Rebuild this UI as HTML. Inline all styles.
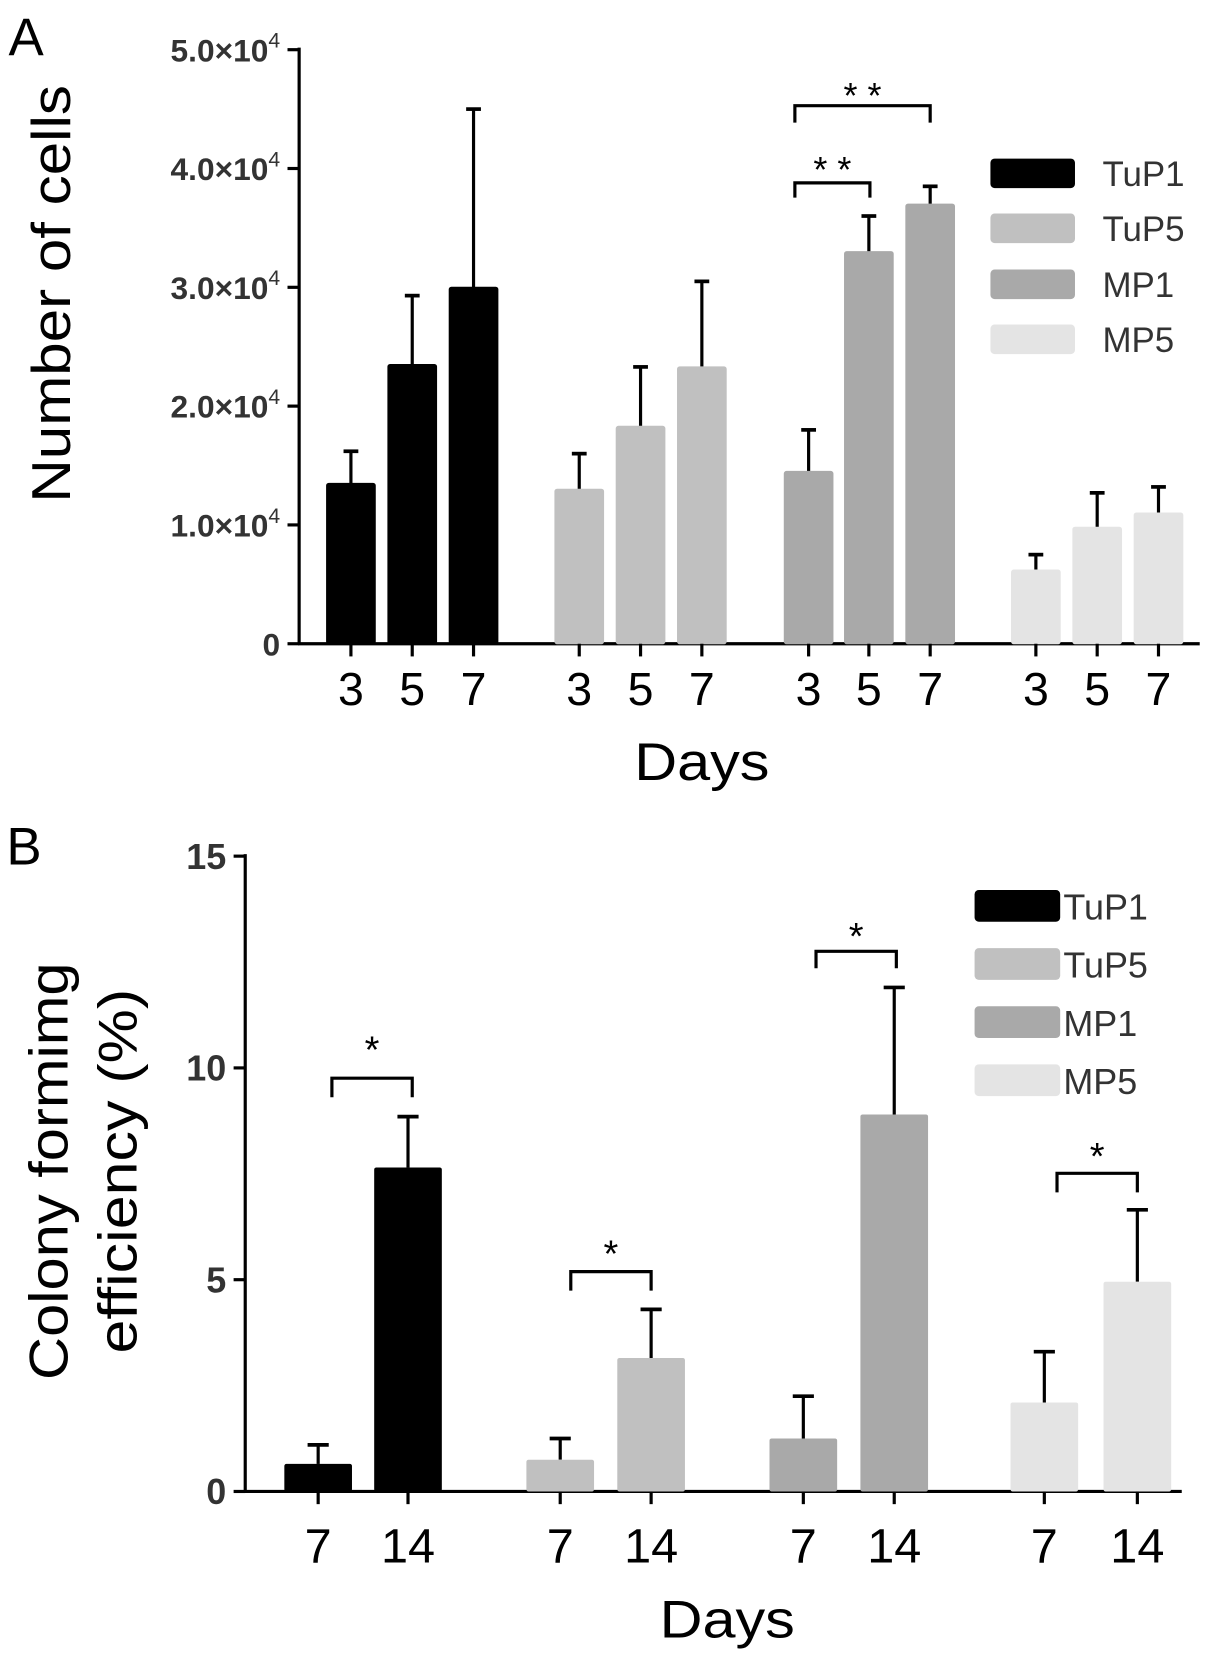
<!DOCTYPE html>
<html><head><meta charset="utf-8"><style>
html,body{margin:0;padding:0;background:#fff}
svg{display:block;font-family:"Liberation Sans",sans-serif}
</style></head><body>
<svg id="chart" width="1205" height="1655" viewBox="0 0 1140 1565.7"></svg>
<script>
// Panel A data
const groupsA = ["TuP1","TuP5","MP1","MP5"];
const daysA = ["3","5","7"];
const valuesA = [[1.35,2.35,3.0],[1.3,1.83,2.33],[1.45,3.3,3.7],[0.62,0.98,1.1]];
const errTopA = [[1.62,2.93,4.5],[1.6,2.33,3.05],[1.8,3.6,3.85],[0.75,1.27,1.32]];
const ticksA = [0,1,2,3,4,5];
const tickLabelsA = ["0","1.0","2.0","3.0","4.0","5.0"];
// Panel B data
const daysB = ["7","14"];
const valuesB = [[0.65,7.65],[0.75,3.15],[1.25,8.9],[2.1,4.95]];
const errTopB = [[1.1,8.85],[1.25,4.3],[2.25,11.9],[3.3,6.65]];
const ticksB = [0,5,10,15];
const colors = ["#000000","#c0c0c0","#a9a9a9","#e4e4e4"];

const NS="http://www.w3.org/2000/svg";
const svg=document.getElementById('chart');
function mk(tag,attrs,parent,text){const e=document.createElementNS(NS,tag);for(const k in attrs)e.setAttribute(k,attrs[k]);if(text!==undefined)e.textContent=text;(parent||svg).appendChild(e);return e;}

// ---- Panel A ----
const yA=v=>609-v*112.4;
const centersA=[[332,390,448],[548,606,664],[765,822,880],[980,1038,1096]];
const gA=mk('g',{});


let t=mk('text',{x:8,y:52,'font-size':50},gA,'A');

let ax=mk('line',{x1:283,y1:45,x2:283,y2:610,stroke:'#000','stroke-width':3},gA);

ax=mk('line',{x1:282,y1:609,x2:1135,y2:609,stroke:'#000','stroke-width':3},gA);

ticksA.forEach((v,i)=>{
  mk('line',{x1:272,x2:283,y1:yA(v),y2:yA(v),stroke:'#000','stroke-width':3},gA);
  const tx=mk('text',{x:265,y:yA(v)+11,'font-size':30,'font-weight':'bold','text-anchor':'end',fill:'#333'},gA);
  
  if(v===0){tx.textContent='0';}else{
    tx.textContent=tickLabelsA[i]+'\u00d710';
    mk('tspan',{dy:-13,'font-size':20,'font-weight':'normal'},tx,'4');
  }
});
t=mk('text',{transform:'translate(66,278) rotate(-90)','font-size':52,'text-anchor':'middle',textLength:395,lengthAdjust:'spacingAndGlyphs'},gA,'Number of cells');

t=mk('text',{x:664,y:738,'font-size':50,'text-anchor':'middle',textLength:128,lengthAdjust:'spacingAndGlyphs'},gA,'Days');

groupsA.forEach((g,gi)=>{
  daysA.forEach((d,di)=>{
    const cx=centersA[gi][di],v=valuesA[gi][di],e=errTopA[gi][di];
    mk('line',{x1:cx,x2:cx,y1:yA(e),y2:yA(v),stroke:'#000','stroke-width':3},gA);
    mk('line',{x1:cx-7,x2:cx+7,y1:yA(e),y2:yA(e),stroke:'#000','stroke-width':3.5},gA);
    const r=mk('rect',{x:cx-23,y:yA(v),width:46,height:609-yA(v),fill:colors[gi],stroke:colors[gi],'stroke-width':1,rx:2},gA);
    
    mk('line',{x1:cx,x2:cx,y1:609,y2:621,stroke:'#000','stroke-width':3},gA);
    const tl=mk('text',{x:cx,y:667,'font-size':44,'text-anchor':'middle'},gA,d);
    
  });
});
function bracket(p,x1,x2,y,depth,label,sy,fs){
  mk('path',{d:`M${x1},${y+depth} V${y} H${x2} V${y+depth}`,fill:'none',stroke:'#000','stroke-width':3},p);
  const s=mk('text',{x:(x1+x2)/2,y:sy,'font-size':fs||34,'text-anchor':'middle'},p,label);
  
}
bracket(gA,752,823,173,14,'* *',172);
bracket(gA,752,880,100,16,'* *',102);
const legA=[150,202,255,307];
groupsA.forEach((g,i)=>{
  const r=mk('rect',{x:937,y:legA[i],width:80,height:28,rx:4,fill:colors[i]},gA);
  
  const tx=mk('text',{x:1043,y:legA[i]+26,'font-size':33,fill:'#333'},gA,g);
  
});

// ---- Panel B ----
const yB=v=>1411-v*40.07;
const centersB=[[301,386],[530,616],[760,846],[988,1076]];
const gB=mk('g',{});


t=mk('text',{x:6,y:818,'font-size':50},gB,'B');

ax=mk('line',{x1:232,y1:808,x2:232,y2:1412,stroke:'#000','stroke-width':3},gB);

ax=mk('line',{x1:231,y1:1411,x2:1118,y2:1411,stroke:'#000','stroke-width':3},gB);

ticksB.forEach(v=>{
  mk('line',{x1:221,x2:232,y1:yB(v),y2:yB(v),stroke:'#000','stroke-width':3},gB);
  const tx=mk('text',{x:214,y:yB(v)+12,'font-size':34,'font-weight':'bold','text-anchor':'end',fill:'#333'},gB,String(v));
  
});
t=mk('text',{transform:'translate(64,1108) rotate(-90)','font-size':52,'text-anchor':'middle',textLength:395,lengthAdjust:'spacingAndGlyphs'},gB,'Colony formimg');

t=mk('text',{transform:'translate(129,1108) rotate(-90)','font-size':52,'text-anchor':'middle',textLength:345,lengthAdjust:'spacingAndGlyphs'},gB,'efficiency (%)');

t=mk('text',{x:688,y:1549,'font-size':50,'text-anchor':'middle',textLength:128,lengthAdjust:'spacingAndGlyphs'},gB,'Days');

groupsA.forEach((g,gi)=>{
  daysB.forEach((d,di)=>{
    const cx=centersB[gi][di],v=valuesB[gi][di],e=errTopB[gi][di];
    mk('line',{x1:cx,x2:cx,y1:yB(e),y2:yB(v),stroke:'#000','stroke-width':3},gB);
    mk('line',{x1:cx-10,x2:cx+10,y1:yB(e),y2:yB(e),stroke:'#000','stroke-width':3.5},gB);
    const r=mk('rect',{x:cx-32,y:yB(v),width:64,height:1411-yB(v),fill:colors[gi],rx:2},gB);
    
    mk('line',{x1:cx,x2:cx,y1:1411,y2:1423,stroke:'#000','stroke-width':3},gB);
    const tl=mk('text',{x:cx,y:1478,'font-size':46,'text-anchor':'middle'},gB,d);
    
  });
});
bracket(gB,314,390,1020,18,'*',1005,36);
bracket(gB,540,616,1203,18,'*',1198,36);
bracket(gB,772,848,900,16,'*',898,36);
bracket(gB,1000,1076,1110,18,'*',1106,36);
const legB=[842,897,952,1007];
groupsA.forEach((g,i)=>{
  const r=mk('rect',{x:922,y:legB[i],width:81,height:30,rx:4,fill:colors[i]},gB);
  
  const tx=mk('text',{x:1006,y:legB[i]+28,'font-size':34,fill:'#333'},gB,g);
  
});
</script>
</body></html>
